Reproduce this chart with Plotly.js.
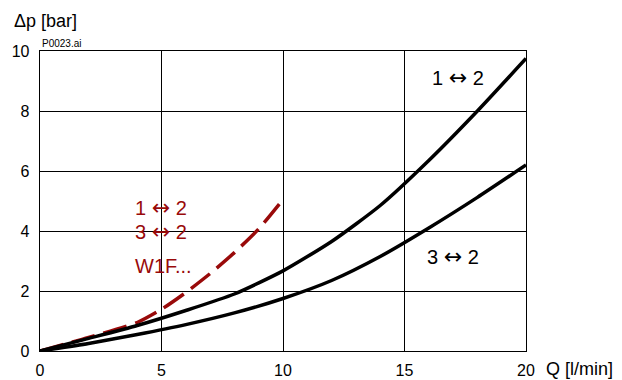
<!DOCTYPE html>
<html>
<head>
<meta charset="utf-8">
<script src="https://cdn.plot.ly/plotly-3.0.1.min.js"></script>
<style>html,body{margin:0;padding:0;background:#fff;}#chart{width:622px;height:380px;}</style>
</head>
<body>
<div id="chart"></div>
<script>
// Flow Q [l/min]
var flowQ = [0, 2, 4, 6, 8, 10, 12, 14, 16, 18, 20];
// Δp [bar] for 1 ↔ 2
var dp12 = [0, 0.42, 0.85, 1.35, 1.9, 2.67, 3.65, 4.85, 6.35, 8.0, 9.75];
// Δp [bar] for 3 ↔ 2
var dp32 = [0, 0.25, 0.55, 0.88, 1.27, 1.75, 2.35, 3.15, 4.1, 5.12, 6.2];
// W1F... variant (1 ↔ 2, 3 ↔ 2)
var flowW1F = [0, 2, 4, 5, 6, 7, 8, 9, 10];
var dpW1F = [0, 0.45, 0.95, 1.39, 1.95, 2.58, 3.28, 4.07, 5.05];

var xTicks = [0, 5, 10, 15, 20];
var yTicks = [0, 2, 4, 6, 8, 10];

var FONT = '"Liberation Sans", Arial, Helvetica, sans-serif';
var RED = '#990a0a';
var L = 40, R = 526, T = 51, B = 351;
function px(x) { return (x - L) / (R - L); }
function py(y) { return (B - y) / (B - T); }

var traces = [
  {x: flowW1F, y: dpW1F, mode: 'lines', line: {color: RED, width: 3.5, dash: '24px,9px', shape: 'spline', smoothing: 0.6}, hoverinfo: 'skip'},
  {x: flowQ, y: dp12, mode: 'lines', line: {color: '#000', width: 3.5, shape: 'spline', smoothing: 0.6}, hoverinfo: 'skip'},
  {x: flowQ, y: dp32, mode: 'lines', line: {color: '#000', width: 3.5, shape: 'spline', smoothing: 0.6}, hoverinfo: 'skip'}
];

var arrow = '<span style="font-family:\'DejaVu Sans\';font-size:22px">↔</span>';

var layout = {
  width: 622, height: 380,
  margin: {l: L, r: 622 - R, t: T, b: 380 - B, pad: 0},
  paper_bgcolor: '#fff', plot_bgcolor: '#fff',
  showlegend: false,
  font: {family: FONT, size: 16, color: '#000'},
  xaxis: {
    range: [0, 20], tickvals: xTicks, ticktext: xTicks.map(String),
    showgrid: true, gridcolor: '#000', gridwidth: 1,
    showline: true, linecolor: '#000', linewidth: 1.3, mirror: true,
    zeroline: false, ticks: '', tickfont: {size: 16}, ticklabelstandoff: 4
  },
  yaxis: {
    range: [0, 10], tickvals: yTicks, ticktext: yTicks.map(String),
    showgrid: true, gridcolor: '#000', gridwidth: 1,
    showline: true, linecolor: '#000', linewidth: 1.3, mirror: true,
    zeroline: false, ticks: '', tickfont: {size: 16}, ticklabelstandoff: 6
  },
  shapes: [
    {type: 'rect', xref: 'paper', yref: 'paper', x0: px(112), x1: px(213), y0: py(281), y1: py(188),
     fillcolor: '#fff', line: {width: 0}, layer: 'between'}
  ],
  annotations: [
    {text: 'Δp [bar]', xref: 'paper', yref: 'paper', x: px(12), y: py(21), xanchor: 'left', yanchor: 'middle', showarrow: false, font: {size: 18}},
    {text: 'P0023.ai', xref: 'paper', yref: 'paper', x: px(40), y: py(43), xanchor: 'left', yanchor: 'middle', showarrow: false, font: {size: 10}},
    {text: 'Q [l/min]', xref: 'paper', yref: 'paper', x: px(544), y: py(369), xanchor: 'left', yanchor: 'middle', showarrow: false, font: {size: 18}},
    {text: '1 ' + arrow + ' 2', xref: 'paper', yref: 'paper', x: px(458), y: py(78), xanchor: 'center', yanchor: 'middle', showarrow: false, font: {size: 20}},
    {text: '3 ' + arrow + ' 2', xref: 'paper', yref: 'paper', x: px(453), y: py(256), xanchor: 'center', yanchor: 'middle', showarrow: false, font: {size: 20}},
    {text: '1 ' + arrow + ' 2', xref: 'paper', yref: 'paper', x: px(161), y: py(207), xanchor: 'center', yanchor: 'middle', showarrow: false, font: {size: 20, color: RED}},
    {text: '3 ' + arrow + ' 2', xref: 'paper', yref: 'paper', x: px(161), y: py(232), xanchor: 'center', yanchor: 'middle', showarrow: false, font: {size: 20, color: RED}},
    {text: 'W1F...', xref: 'paper', yref: 'paper', x: px(163), y: py(266), xanchor: 'center', yanchor: 'middle', showarrow: false, font: {size: 20, color: RED}}
  ]
};

Plotly.newPlot('chart', traces, layout, {staticPlot: true, displayModeBar: false});
</script>
</body>
</html>
